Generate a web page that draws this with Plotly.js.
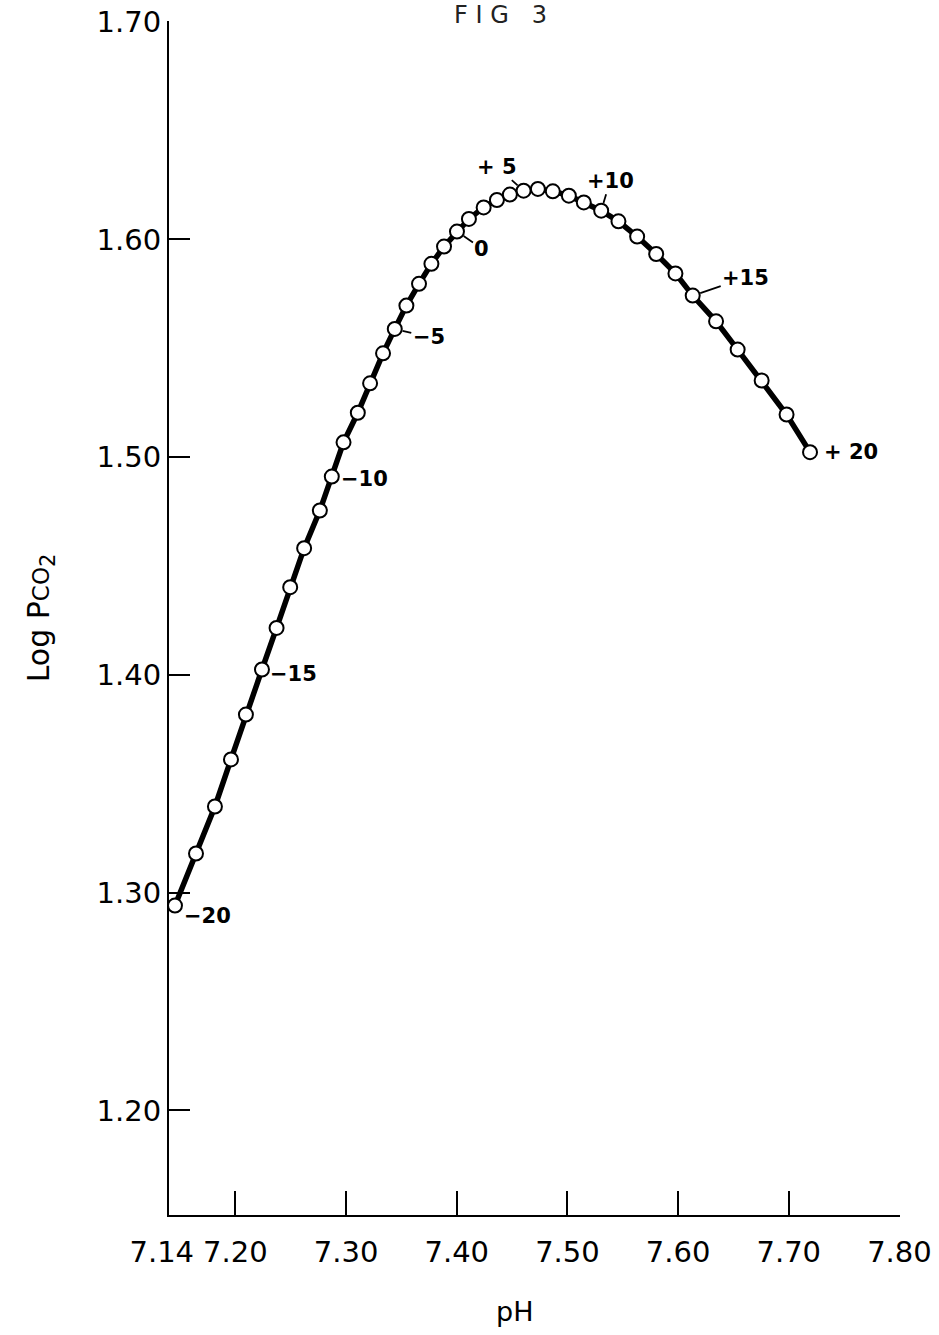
<!DOCTYPE html>
<html>
<head>
<meta charset="utf-8">
<script src="https://cdn.plot.ly/plotly-3.0.1.min.js"></script>
<style>html,body{margin:0;padding:0;background:#fff;}#chart{width:939px;height:1335px;}</style>
</head>
<body>
<div id="chart"></div>
<script>
// Base excess steps (-20 ... +20)
const steps = [-20,-19,-18,-17,-16,-15,-14,-13,-12,-11,-10,-9,-8,-7,-6,-5,-4,-3,-2,-1,0,1,2,3,4,5,6,7,8,9,10,11,12,13,14,15,16,17,18,19,20];
const pH = [7.1454,7.1644,7.1815,7.1960,7.2095,7.2240,7.2372,7.2495,7.2621,7.2763,7.2871,7.2977,7.3106,7.3217,7.3334,7.3440,7.3545,7.3659,7.3771,7.3885,7.4002,7.4110,7.4243,7.4363,7.4480,7.4604,7.4733,7.4868,7.5013,7.5148,7.5305,7.5461,7.5630,7.5802,7.5976,7.6132,7.6343,7.6538,7.6755,7.6980,7.7192];
const logPco2 = [1.2941,1.3180,1.3396,1.3612,1.3818,1.4025,1.4216,1.4403,1.4582,1.4755,1.4911,1.5068,1.5204,1.5339,1.5477,1.5589,1.5696,1.5796,1.5888,1.5967,1.6036,1.6094,1.6147,1.6181,1.6206,1.6224,1.6232,1.6221,1.6201,1.6170,1.6132,1.6083,1.6013,1.5933,1.5844,1.5742,1.5624,1.5494,1.5352,1.5196,1.5023];
const labelSteps = [-20,-15,-10,-5,0,5,10,15,20];
const labelTexts = ["\u221220","\u221215","\u221210","\u22125","0","+ 5","+10","+15","+ 20"];
const xTicks = [7.14,7.20,7.30,7.40,7.50,7.60,7.70,7.80];
const xTickText = ["7.14\u2002","7.20","7.30","7.40","7.50","7.60","7.70","7.80"];
const yTicks = [1.20,1.30,1.40,1.50,1.60,1.70];
const yTickText = ["1.20","1.30","1.40","1.50","1.60","1.70"];

// label placement styles (pixel offsets), one per label
const labelStyle = [
  {arrow:false, xshift:7, yshift:-10},
  {arrow:false, xshift:6, yshift:-4},
  {arrow:false, xshift:7, yshift:-2},
  {arrow:true, ax:34, ay:8},
  {arrow:true, ax:25, ay:17},
  {arrow:true, ax:-27, ay:-24},
  {arrow:true, ax:9, ay:-30},
  {arrow:true, ax:53, ay:-18},
  {arrow:false, xshift:12, yshift:0}
];

const labelFont = {family:"DejaVu Sans", size:21, color:"#000", weight:"bold"};
const annotations = labelSteps.map((s, k) => {
  const i = steps.indexOf(s);
  const st = labelStyle[k];
  const a = {x: pH[i], y: logPco2[i], xref:"x", yref:"y", text:"<b>"+labelTexts[k]+"</b>", font: labelFont};
  if (st.arrow) {
    Object.assign(a, {showarrow:true, ax:st.ax, ay:st.ay, arrowhead:0, arrowwidth:1.8, arrowcolor:"#000", standoff:8});
  } else {
    Object.assign(a, {showarrow:false, xanchor:"left", xshift:st.xshift, yshift:st.yshift});
  }
  return a;
});
annotations.push({xref:"paper", yref:"paper", x:0.473, y:-0.066, yanchor:"top", showarrow:false, text:"pH", font:{family:"DejaVu Sans", size:27, color:"#000"}});
annotations.push({xref:"paper", yref:"paper", x:0.453, y:1.0, yanchor:"bottom", xanchor:"center", showarrow:false, text:"F I G   3", font:{family:"DejaVu Sans", size:24, color:"#222", weight:"normal"}, yshift:-10});

const trace = {
  x: pH, y: logPco2, type:"scatter", mode:"lines+markers",
  line:{color:"#000", width:5.5},
  marker:{symbol:"circle", size:14, color:"#fff", line:{color:"#000", width:2}},
  hoverinfo:"skip", cliponaxis:false
};

const layout = {
  width:939, height:1335,
  margin:{l:169, r:39, t:21, b:120},
  paper_bgcolor:"#fff", plot_bgcolor:"#fff",
  showlegend:false,
  font:{family:"DejaVu Sans", color:"#000"},
  xaxis:{range:[7.14,7.8005], tickvals:xTicks, ticktext:xTickText, tickangle:0, ticks:"inside", ticklen:24, tickwidth:2, tickcolor:"#000",
         showline:true, linecolor:"#000", linewidth:2, showgrid:false, zeroline:false, ticklabelstandoff:10,
         tickfont:{family:"DejaVu Sans", size:29, color:"#000"}},
  yaxis:{range:[1.152,1.7003], tickvals:yTicks, ticktext:yTickText, ticks:"inside", ticklen:21, tickwidth:2, tickcolor:"#000",
         showline:true, linecolor:"#000", linewidth:2, showgrid:false, zeroline:false,
         tickfont:{family:"DejaVu Sans", size:29, color:"#000"},
         title:{text:"Log P<span style=\"font-size:23px\">CO</span><sub>2</sub>", font:{family:"DejaVu Sans", size:30, color:"#000"}, standoff:38}},
  annotations: annotations
};

Plotly.newPlot("chart", [trace], layout, {staticPlot:true, displayModeBar:false});
</script>
</body>
</html>
